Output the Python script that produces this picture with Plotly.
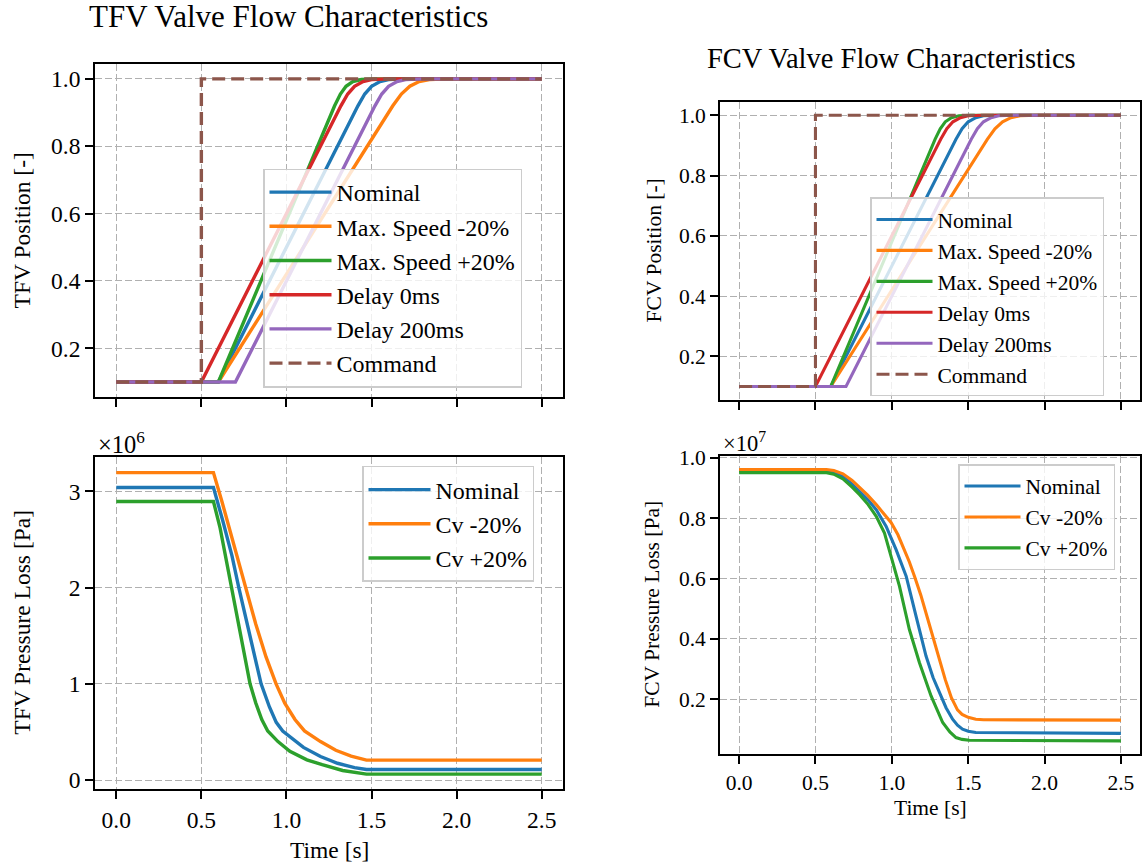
import plotly.graph_objects as go

# ---------------- Position data ----------------
t_cmd = [0.0, 0.5, 0.5, 2.5]
pos_cmd = [0.1, 0.1, 1.0, 1.0]

t_nom = [0.0, 0.6, 1.42, 1.46, 1.50, 1.55, 1.60, 1.70, 2.5]
pos_nom = [0.1, 0.1, 0.92, 0.955, 0.978, 0.992, 0.998, 1.0, 1.0]

t_slow = [0.0, 0.6, 1.625, 1.675, 1.725, 1.78, 1.84, 1.95, 2.5]
pos_slow = [0.1, 0.1, 0.92, 0.955, 0.978, 0.992, 0.998, 1.0, 1.0]

t_fast = [0.0, 0.6, 1.283, 1.317, 1.35, 1.39, 1.44, 1.52, 2.5]
pos_fast = [0.1, 0.1, 0.92, 0.955, 0.978, 0.992, 0.998, 1.0, 1.0]

t_d0 = [0.0, 0.5, 1.32, 1.36, 1.40, 1.45, 1.50, 1.60, 2.5]
pos_d0 = [0.1, 0.1, 0.92, 0.955, 0.978, 0.992, 0.998, 1.0, 1.0]

t_d200 = [0.0, 0.7, 1.52, 1.56, 1.60, 1.65, 1.70, 1.80, 2.5]
pos_d200 = [0.1, 0.1, 0.92, 0.955, 0.978, 0.992, 0.998, 1.0, 1.0]

pos_labels = ["Nominal", "Max. Speed -20%", "Max. Speed +20%", "Delay 0ms", "Delay 200ms", "Command"]

# ---------------- TFV pressure loss (x 1e6 Pa) ----------------
tfv_t_nom = [0.0, 0.571, 0.625, 0.68, 0.72, 0.76, 0.80, 0.851, 0.90, 0.94, 0.978, 1.04, 1.10, 1.20, 1.30, 1.40, 1.47, 2.5]
tfv_dp_nom = [3.04, 3.04, 2.70, 2.33, 2.0, 1.69, 1.40, 1.0, 0.76, 0.60, 0.51, 0.42, 0.34, 0.245, 0.175, 0.13, 0.11, 0.11]

tfv_t_cvm = [0.0, 0.571, 0.62, 0.67, 0.72, 0.763, 0.82, 0.88, 0.939, 0.99, 1.05, 1.106, 1.20, 1.29, 1.38, 1.47, 2.5]
tfv_dp_cvm = [3.195, 3.195, 2.90, 2.58, 2.28, 2.0, 1.62, 1.28, 1.0, 0.80, 0.63, 0.511, 0.40, 0.31, 0.25, 0.207, 0.207]

tfv_t_cvp = [0.0, 0.571, 0.61, 0.645, 0.675, 0.71, 0.75, 0.786, 0.82, 0.855, 0.89, 0.95, 1.02, 1.12, 1.21, 1.33, 1.47, 2.5]
tfv_dp_cvp = [2.895, 2.895, 2.62, 2.30, 2.0, 1.66, 1.32, 1.0, 0.80, 0.63, 0.511, 0.40, 0.30, 0.21, 0.16, 0.10, 0.062, 0.062]

# ---------------- FCV pressure loss (x 1e7 Pa) ----------------
fcv_t_nom = [0.0, 0.572, 0.62, 0.68, 0.74, 0.789, 0.845, 0.898, 0.963, 1.028, 1.094, 1.159, 1.224,
             1.27, 1.311, 1.355, 1.398, 1.43, 1.463, 1.50, 1.55, 2.5]
fcv_dp_nom = [0.957, 0.957, 0.953, 0.938, 0.913, 0.889, 0.860, 0.828, 0.773, 0.696, 0.608, 0.475, 0.343,
              0.272, 0.222, 0.172, 0.134, 0.114, 0.101, 0.094, 0.090, 0.087]

fcv_t_cvm = [0.0, 0.572, 0.62, 0.68, 0.74, 0.789, 0.84, 0.898, 0.95, 0.996, 1.04, 1.08, 1.115, 1.15, 1.19,
             1.23, 1.27, 1.311, 1.35, 1.39, 1.43, 1.46, 1.50, 1.55, 1.60, 2.5]
fcv_dp_cvm = [0.961, 0.961, 0.958, 0.947, 0.925, 0.902, 0.877, 0.845, 0.815, 0.785, 0.745, 0.700, 0.655, 0.605, 0.545,
              0.475, 0.405, 0.335, 0.265, 0.205, 0.165, 0.150, 0.140, 0.134, 0.132, 0.131]

fcv_t_cvp = [0.0, 0.572, 0.62, 0.68, 0.74, 0.789, 0.845, 0.898, 0.952, 0.996, 1.05, 1.115, 1.181, 1.257,
             1.30, 1.333, 1.38, 1.42, 1.46, 1.507, 2.5]
fcv_dp_cvp = [0.951, 0.951, 0.946, 0.930, 0.903, 0.878, 0.845, 0.806, 0.751, 0.674, 0.575, 0.431, 0.321, 0.211,
              0.160, 0.123, 0.092, 0.073, 0.067, 0.064, 0.062]

dp_labels = ["Nominal", "Cv -20%", "Cv +20%"]

x_ticks = [0.0, 0.5, 1.0, 1.5, 2.0, 2.5]
x_ticktext = ["0.0", "0.5", "1.0", "1.5", "2.0", "2.5"]
pos_ticks = [0.2, 0.4, 0.6, 0.8, 1.0]
pos_ticktext = ["0.2", "0.4", "0.6", "0.8", "1.0"]
tfv_dp_ticks = [0, 1, 2, 3]
tfv_dp_ticktext = ["0", "1", "2", "3"]
fcv_dp_ticks = [0.2, 0.4, 0.6, 0.8, 1.0]
fcv_dp_ticktext = ["0.2", "0.4", "0.6", "0.8", "1.0"]

# ---------------- Styling ----------------
C = ["#1f77b4", "#ff7f0e", "#2ca02c", "#d62728", "#9467bd", "#8c564b"]
FONT = "Liberation Serif"
W, H = 1142, 868
FS_L, FS_R = 23.5, 21.5
LEG_FS_L, LEG_FS_R = 24, 21.5
LW_L, LW_R = 3.4, 3.1


def px(x):
    return x / W


def py(y):
    # target pixel row -> paper coordinate
    yy = (y - 9.2) / 0.9856
    return 1 - yy / H


fig = go.Figure()

pos_series = [(t_nom, pos_nom), (t_slow, pos_slow), (t_fast, pos_fast),
              (t_d0, pos_d0), (t_d200, pos_d200)]

for (xa, ya, leg, lw) in [("x", "y", "legend", LW_L), ("x2", "y2", "legend2", LW_R)]:
    for i, (tt, yy) in enumerate(pos_series):
        fig.add_trace(go.Scatter(x=tt, y=yy, mode="lines", name=pos_labels[i],
                                 line=dict(color=C[i], width=lw),
                                 xaxis=xa, yaxis=ya, legend=leg))
    fig.add_trace(go.Scatter(x=t_cmd, y=pos_cmd, mode="lines", name=pos_labels[5],
                             line=dict(color=C[5], width=lw, dash="13px,6px"),
                             xaxis=xa, yaxis=ya, legend=leg))

for (xa, ya, leg, lw, series) in [
        ("x3", "y3", "legend3", LW_L,
         [(tfv_t_nom, tfv_dp_nom), (tfv_t_cvm, tfv_dp_cvm), (tfv_t_cvp, tfv_dp_cvp)]),
        ("x4", "y4", "legend4", LW_R,
         [(fcv_t_nom, fcv_dp_nom), (fcv_t_cvm, fcv_dp_cvm), (fcv_t_cvp, fcv_dp_cvp)])]:
    for i, (tt, yy) in enumerate(series):
        fig.add_trace(go.Scatter(x=tt, y=yy, mode="lines", name=dp_labels[i],
                                 line=dict(color=C[i], width=lw),
                                 xaxis=xa, yaxis=ya, legend=leg))


def axis_common(fs, showlabels=True):
    return dict(showline=True, linecolor="black", linewidth=1.8, mirror=True,
                ticks="outside", ticklen=8, tickwidth=1.8, tickcolor="black",
                showgrid=True, gridcolor="#b0b0b0", gridwidth=1.4, griddash="7px,3px",
                zeroline=False, showticklabels=showlabels,
                tickfont=dict(family=FONT, size=fs, color="black"))


xl = [px(95), px(563)]
xr = [px(720), px(1140)]

fig.update_layout(
    width=W, height=H, margin=dict(l=0, r=0, t=0, b=0),
    paper_bgcolor="white", plot_bgcolor="white",
    font=dict(family=FONT, color="black"),
    xaxis=dict(domain=xl, range=[-0.125, 2.625], tickvals=x_ticks, ticktext=x_ticktext,
               anchor="y", **axis_common(FS_L, False)),
    yaxis=dict(domain=[py(397), py(63)], range=[0.055, 1.045], tickvals=pos_ticks,
               ticktext=pos_ticktext, anchor="x", **axis_common(FS_L)),
    xaxis2=dict(domain=xr, range=[-0.125, 2.625], tickvals=x_ticks, ticktext=x_ticktext,
                anchor="y2", **axis_common(FS_R, False)),
    yaxis2=dict(domain=[py(400), py(101)], range=[0.055, 1.045], tickvals=pos_ticks,
                ticktext=pos_ticktext, anchor="x2", **axis_common(FS_R)),
    xaxis3=dict(domain=xl, range=[-0.125, 2.625], tickvals=x_ticks, ticktext=x_ticktext,
                anchor="y3", **axis_common(FS_L)),
    yaxis3=dict(domain=[py(790), py(457)], range=[-0.097, 3.357], tickvals=tfv_dp_ticks,
                ticktext=tfv_dp_ticktext, anchor="x3", **axis_common(FS_L)),
    xaxis4=dict(domain=xr, range=[-0.125, 2.625], tickvals=x_ticks, ticktext=x_ticktext,
                anchor="y4", **axis_common(FS_R)),
    yaxis4=dict(domain=[py(755), py(456)], range=[0.017, 1.006], tickvals=fcv_dp_ticks,
                ticktext=fcv_dp_ticktext, anchor="x4", **axis_common(FS_R)),
)


def legend_style(x, y, fs, iw):
    return dict(x=x, y=y, xanchor="left", yanchor="top", xref="paper", yref="paper",
                bgcolor="rgba(255,255,255,0.8)", bordercolor="#cccccc", borderwidth=1.5,
                font=dict(family=FONT, size=fs, color="black"),
                traceorder="normal", itemwidth=iw)


fig.update_layout(
    legend=legend_style(px(263), py(168), LEG_FS_L, 62),
    legend2=legend_style(px(870), py(197), LEG_FS_R, 56),
    legend3=legend_style(px(362), py(466), LEG_FS_L, 62),
    legend4=legend_style(px(958), py(464), LEG_FS_R, 56),
)

ann = []


def add_text(text, x, y, size, angle=0, xanchor="center"):
    ann.append(dict(text=text, x=px(x), y=py(y), xref="paper", yref="paper",
                    showarrow=False, textangle=angle, xanchor=xanchor, yanchor="middle",
                    font=dict(family=FONT, size=size, color="black")))


add_text("TFV Valve Flow Characteristics", 288, 16, 31)
add_text("FCV Valve Flow Characteristics", 891, 58, 28.5)
add_text("TFV Position [-]", 22, 230, FS_L, -90)
add_text("TFV Pressure Loss [Pa]", 22, 623, FS_L, -90)
add_text("FCV Position [-]", 654, 250, FS_R, -90)
add_text("FCV Pressure Loss [Pa]", 652, 605, FS_R, -90)
add_text("Time [s]", 329, 851, FS_L)
add_text("Time [s]", 930, 809, FS_R)
add_text("×10<sup>6</sup>", 96, 443, FS_L + 1, 0, "left")
add_text("×10<sup>7</sup>", 721, 442, FS_R + 1, 0, "left")

fig.update_layout(annotations=ann)

fig.write_html("out.html")
